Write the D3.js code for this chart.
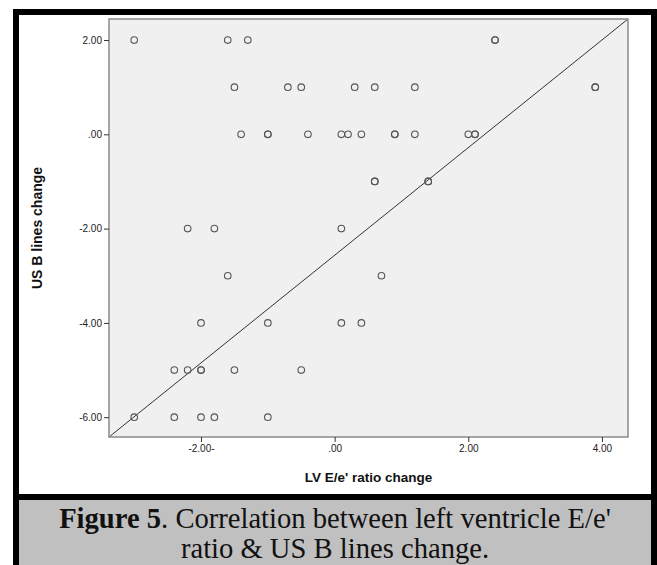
<!DOCTYPE html>
<html>
<head>
<meta charset="utf-8">
<script src="https://cdn.jsdelivr.net/npm/d3@7"></script>
<style>
  html, body { margin: 0; padding: 0; background: #fff; }
  svg { display: block; }
</style>
</head>
<body>
<div id="chart"></div>
<script>
// ---- data ----
const xValues = [-3.0, -1.6, -1.3, 2.4, 2.4,
                 -1.5, -0.7, -0.5, 0.3, 0.6, 1.2, 3.9, 3.9,
                 -1.4, -1.0, -1.0, -0.4, 0.1, 0.2, 0.4, 0.9, 0.9, 1.2, 2.0, 2.1, 2.1,
                 0.6, 0.6, 1.4, 1.4,
                 -2.2, -1.8, 0.1,
                 -1.6, 0.7,
                 -2.0, -1.0, 0.1, 0.4,
                 -2.4, -2.2, -2.0, -2.0, -1.5, -0.5,
                 -3.0, -2.4, -2.0, -1.8, -1.0];
const yValues = [2, 2, 2, 2, 2,
                 1, 1, 1, 1, 1, 1, 1, 1,
                 0, 0, 0, 0, 0, 0, 0, 0, 0, 0, 0, 0, 0,
                 -1, -1, -1, -1,
                 -2, -2, -2,
                 -3, -3,
                 -4, -4, -4, -4,
                 -5, -5, -5, -5, -5, -5,
                 -6, -6, -6, -6, -6];
const xTickValues = [-2, 0, 2, 4];
const xTickLabels = ["-2.00-", ".00", "2.00", "4.00"];
const yTickValues = [2, 0, -2, -4, -6];
const yTickLabels = ["2.00", ".00", "-2.00", "-4.00", "-6.00"];
const xDomain = [-3.377, 4.39];
const yDomain = [-6.42, 2.446];
const xTitle = "LV E/e' ratio change";
const yTitle = "US B lines change";
const captionBold = "Figure 5";
const captionLine1 = ". Correlation between left ventricle E/e'";
const captionLine2 = "ratio & US B lines change.";

// ---- layout ----
const W = 657, H = 565;
const plot = { left: 109, right: 628, top: 19, bottom: 437 };

const svg = d3.select("#chart").append("svg")
  .attr("width", W).attr("height", H)
  .attr("viewBox", `0 0 ${W} ${H}`);

svg.append("rect").attr("x", 0).attr("y", 0).attr("width", W).attr("height", H).attr("fill", "#fff");

// caption box
svg.append("rect").attr("x", 19).attr("y", 500).attr("width", 632).attr("height", H - 500).attr("fill", "#c0c0c0");

// black frame
const frame = [
  { x: 13, y: 9, w: 6, h: H - 9 },
  { x: 13, y: 9, w: W - 13, h: 6 },
  { x: 651, y: 9, w: 6, h: H - 9 },
  { x: 13, y: 494, w: W - 13, h: 6 }
];
svg.selectAll("rect.frame").data(frame).enter().append("rect")
  .attr("class", "frame")
  .attr("x", d => d.x).attr("y", d => d.y).attr("width", d => d.w).attr("height", d => d.h)
  .attr("fill", "#000");

const x = d3.scaleLinear().domain(xDomain).range([plot.left, plot.right]);
const y = d3.scaleLinear().domain(yDomain).range([plot.bottom, plot.top]);

// plot background
svg.append("rect")
  .attr("x", plot.left).attr("y", plot.top)
  .attr("width", plot.right - plot.left).attr("height", plot.bottom - plot.top)
  .attr("fill", "#f0f0f0");

// diagonal line corner to corner
svg.append("line")
  .attr("x1", x(xDomain[0])).attr("y1", y(yDomain[0]))
  .attr("x2", x(xDomain[1])).attr("y2", y(yDomain[1]))
  .attr("stroke", "#333").attr("stroke-width", 1);

// points
const pts = xValues.map((v, i) => ({ x: v, y: yValues[i] }));
svg.append("g").selectAll("circle").data(pts).enter().append("circle")
  .attr("cx", d => x(d.x)).attr("cy", d => y(d.y))
  .attr("r", 3.3)
  .attr("fill", "none")
  .attr("stroke", "#555")
  .attr("stroke-width", 1.1);

// plot border
svg.append("rect")
  .attr("x", plot.left).attr("y", plot.top)
  .attr("width", plot.right - plot.left).attr("height", plot.bottom - plot.top)
  .attr("fill", "none").attr("stroke", "#8a8a8a").attr("stroke-width", 1.5);

// axes
const yAxis = d3.axisLeft(y).tickValues(yTickValues)
  .tickFormat((d, i) => yTickLabels[i]).tickSize(5).tickPadding(2);
const gy = svg.append("g").attr("transform", `translate(${plot.left},0)`).call(yAxis);
gy.select(".domain").remove();
gy.selectAll("line").attr("stroke", "#333");
gy.selectAll("text").attr("font-family", "Arial, 'Liberation Sans', sans-serif")
  .attr("font-size", "10px").attr("fill", "#222");

const xAxis = d3.axisBottom(x).tickValues(xTickValues)
  .tickFormat((d, i) => xTickLabels[i]).tickSize(5).tickPadding(3);
const gx = svg.append("g").attr("transform", `translate(0,${plot.bottom})`).call(xAxis);
gx.select(".domain").remove();
gx.selectAll("line").attr("stroke", "#333");
gx.selectAll("text").attr("font-family", "Arial, 'Liberation Sans', sans-serif")
  .attr("font-size", "10px").attr("fill", "#222");

// axis titles
svg.append("text")
  .attr("x", (plot.left + plot.right) / 2).attr("y", 482)
  .attr("text-anchor", "middle")
  .attr("font-family", "Arial, 'Liberation Sans', sans-serif")
  .attr("font-weight", "bold").attr("font-size", "13.5px").attr("fill", "#111")
  .text(xTitle);

svg.append("text")
  .attr("transform", `translate(42,${(plot.top + plot.bottom) / 2}) rotate(-90)`)
  .attr("text-anchor", "middle")
  .attr("font-family", "Arial, 'Liberation Sans', sans-serif")
  .attr("font-weight", "bold").attr("font-size", "14px").attr("fill", "#111")
  .text(yTitle);

// caption
const cap = svg.append("text")
  .attr("x", 335).attr("y", 528)
  .attr("text-anchor", "middle")
  .attr("font-family", "'Times New Roman', 'Liberation Serif', serif")
  .attr("font-size", "28.6px").attr("fill", "#111");
cap.append("tspan").attr("font-weight", "bold").text(captionBold);
cap.append("tspan").text(captionLine1);

svg.append("text")
  .attr("x", 335).attr("y", 558)
  .attr("text-anchor", "middle")
  .attr("font-family", "'Times New Roman', 'Liberation Serif', serif")
  .attr("font-size", "28.6px").attr("fill", "#111")
  .text(captionLine2);
</script>
</body>
</html>
